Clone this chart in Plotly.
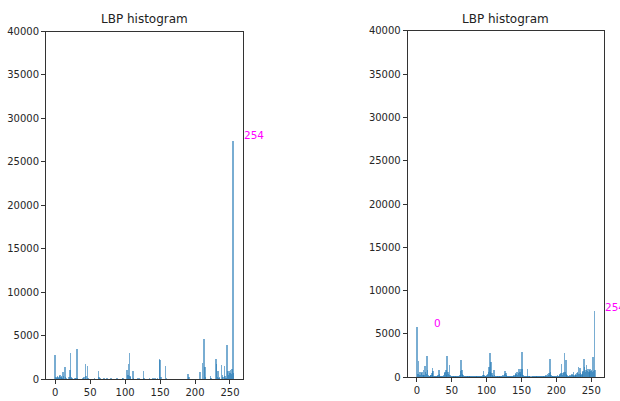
import plotly.graph_objects as go

# ---------------- data ----------------
bins = list(range(256))

# left image: non-zero histogram bins (all other bins are 0)
left_bins = [0, 1, 2, 3, 4, 5, 6, 7, 8, 9, 10, 11, 12, 14, 15, 16, 20, 21, 22, 23, 24, 28, 30, 31, 32,
             40, 41, 43, 44, 46, 47, 56, 62, 63, 64, 70, 74, 80, 88, 96, 97, 103, 104, 105, 106, 107,
             108, 111, 112, 118, 120, 126, 127, 135, 140, 143, 146, 149, 150, 151, 158, 159, 190, 191,
             207, 211, 213, 214, 215, 222, 223, 230, 231, 232, 233, 234, 235, 238, 239, 240, 242, 243,
             244, 246, 247, 248, 249, 250, 251, 252, 253, 254, 255]
left_counts = [2800, 300, 150, 400, 250, 200, 350, 500, 300, 450, 200, 900, 350, 1400, 300, 200, 250, 1100,
               3000, 300, 150, 150, 200, 3500, 150, 200, 300, 1800, 400, 1600, 200, 100, 950, 300, 150, 80,
               120, 80, 100, 150, 120, 1050, 500, 1800, 3100, 400, 300, 950, 150, 100, 120, 950, 200, 80,
               100, 150, 200, 2400, 2200, 300, 1600, 150, 580, 300, 850, 1900, 4700, 1400, 300, 460, 200,
               2400, 1800, 300, 1000, 200, 300, 1700, 500, 300, 1500, 400, 200, 4000, 1000, 500, 1000,
               800, 1100, 600, 1200, 27500, 800]

# right image: all 256 bins
right_counts = [
    5800, 400, 1900, 300, 650, 250, 500, 660, 350, 850, 300, 1350, 600, 400, 2550, 850,
    300, 200, 150, 250, 350, 500, 1150, 800, 200, 150, 100, 150, 200, 150, 300, 850,
    400, 150, 100, 100, 150, 200, 300, 500, 600, 850, 300, 2550, 600, 400, 1400, 300,
    150, 200, 100, 100, 150, 200, 150, 100, 100, 150, 200, 100, 150, 300, 800, 2000,
    850, 400, 300, 150, 200, 100, 100, 150, 200, 100, 100, 150, 100, 80, 100, 120,
    150, 100, 80, 100, 120, 100, 150, 100, 80, 100, 120, 150, 100, 200, 300, 780,
    300, 150, 100, 200, 300, 400, 600, 1200, 2850, 700, 1750, 500, 300, 200, 850, 300,
    150, 200, 100, 150, 100, 80, 100, 150, 200, 150, 300, 200, 250, 400, 780, 500,
    250, 150, 100, 200, 150, 100, 200, 150, 100, 200, 300, 200, 300, 500, 400, 700,
    300, 500, 1050, 600, 400, 1000, 2950, 1000, 300, 200, 150, 100, 200, 150, 950, 200,
    100, 80, 100, 60, 80, 100, 150, 120, 100, 150, 200, 100, 150, 120, 100, 80,
    100, 120, 150, 100, 150, 200, 100, 150, 200, 300, 200, 400, 350, 500, 2200, 700,
    300, 200, 150, 100, 150, 200, 150, 100, 200, 300, 150, 200, 300, 400, 500, 1550,
    300, 500, 700, 2800, 600, 2000, 400, 300, 200, 150, 200, 300, 200, 300, 400, 300,
    650, 200, 300, 400, 300, 500, 600, 1240, 400, 1120, 500, 300, 400, 600, 800, 2200,
    1240, 700, 900, 1400, 800, 1050, 700, 900, 1050, 800, 900, 700, 2330, 800, 7650, 850,
]

x_ticks = [0, 50, 100, 150, 200, 250]
y_ticks = [0, 5000, 10000, 15000, 20000, 25000, 30000, 35000, 40000]
title_text = "LBP histogram"
left_labels = [254]
right_labels = [0, 254]

# ---------------- build ----------------
left_full = [0] * 256
for b, c in zip(left_bins, left_counts):
    left_full[b] = c

W, H = 620, 401
BLUE = "#1f77b4"
MAG = "#ff00ff"

fig = go.Figure()
fig.add_trace(go.Bar(x=bins, y=left_full, width=0.8,
                     marker=dict(color=BLUE, opacity=0.6, line=dict(width=0)),
                     xaxis="x", yaxis="y", showlegend=False))
fig.add_trace(go.Bar(x=bins, y=right_counts, width=0.8,
                     marker=dict(color=BLUE, opacity=0.6, line=dict(width=0)),
                     xaxis="x2", yaxis="y2", showlegend=False))


def px_x(a, b):
    return [a / W, b / W]


def px_y(top, bottom):
    return [(H - bottom) / H, (H - top) / H]


common = dict(showline=True, mirror=True, linecolor="#333333", linewidth=1, ticks="outside",
              ticklen=4, tickwidth=1, tickcolor="#333333", showgrid=False, zeroline=False,
              tickformat="d", automargin=False,
              tickfont=dict(family="DejaVu Sans", size=10, color="#262626"))

lx = px_x(46, 242.7)
rx = px_x(407.7, 604)
ly = px_y(31.5, 379)
ry = px_y(30.7, 377.3)

fig.update_layout(
    width=W, height=H,
    margin=dict(l=0, r=0, t=0, b=0, pad=0, autoexpand=False),
    paper_bgcolor="white", plot_bgcolor="white",
    xaxis=dict(domain=lx, range=[-13.2, 268.2], tickvals=x_ticks, anchor="y", **common),
    yaxis=dict(domain=ly, range=[0, 40000], tickvals=y_ticks, anchor="x", **common),
    xaxis2=dict(domain=rx, range=[-13.2, 268.2], tickvals=x_ticks, anchor="y2", **common),
    yaxis2=dict(domain=ry, range=[0, 40000], tickvals=y_ticks, anchor="x2", **common),
    bargap=0,
)

annots = []
for dom in (lx, rx):
    annots.append(dict(text=title_text, xref="paper", yref="paper", x=(dom[0] + dom[1]) / 2,
                       y=(H - 19) / H, xanchor="center", yanchor="middle", showarrow=False,
                       font=dict(family="DejaVu Sans", size=12, color="#222222")))

shifts = {0: 15, 254: 9}
for b in left_labels:
    annots.append(dict(text=str(b), xref="x", yref="y", x=b, y=left_full[b], xanchor="left",
                       yanchor="middle", xshift=shifts[b], yshift=5, showarrow=False,
                       font=dict(family="DejaVu Sans", size=10.5, color=MAG)))
for b in right_labels:
    annots.append(dict(text=str(b), xref="x2", yref="y2", x=b, y=right_counts[b],
                       xanchor="left", yanchor="middle", xshift=shifts[b], yshift=4, showarrow=False,
                       font=dict(family="DejaVu Sans", size=10.5, color=MAG)))
fig.update_layout(annotations=annots)

# remove the page's default body margin so the 620x401 figure fills the window exactly
fig.write_html("out.html", config={"displayModeBar": False},
               post_script="document.body.style.margin='0';")
